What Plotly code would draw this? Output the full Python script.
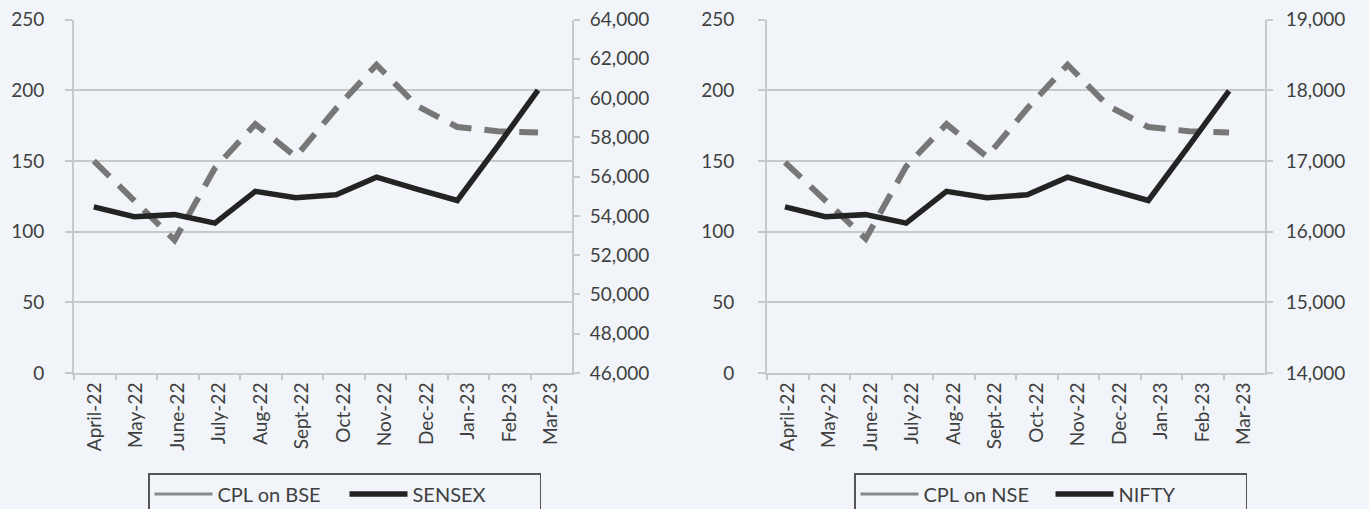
import plotly.graph_objects as go

months = ["April-22", "May-22", "June-22", "July-22", "Aug-22", "Sept-22",
          "Oct-22", "Nov-22", "Dec-22", "Jan-23", "Feb-23", "Mar-23"]

cpl_bse = [150, 122, 94, 145, 176, 153, 187, 218, 189, 174, 171, 170]
sensex = [54460, 53956, 54064, 53632, 55252, 54928, 55072, 55972, 55360, 54784, 57556, 60400]

cpl_nse = [149, 122, 95, 146, 176, 153, 187, 218, 189, 174, 171, 170]
nifty = [16350, 16210, 16240, 16120, 16570, 16480, 16520, 16770, 16600, 16440, 17210, 17990]

left_ticks = [0, 50, 100, 150, 200, 250]

BG = "#F1F5F9"
GRID = "#C6C9CC"
TXT = "#3f3f3f"
DASHC = "#777777"
BLACK = "#232323"
FONT = "Lato"
FS = 19

fig = go.Figure()

def add_panel(fig, cpl, idx, cpl_name, idx_name, xa, xl, yl, yr, legend):
    # legend sample for CPL (solid, as in the reference legend)
    fig.add_trace(go.Scatter(x=months, y=[None] * len(months), mode="lines",
                             name=cpl_name, line=dict(color="#8a8a8a", width=3),
                             xaxis=xl, yaxis=yl, legend=legend, showlegend=True,
                             hoverinfo="skip"))
    fig.add_trace(go.Scatter(x=months, y=cpl, mode="lines", name=cpl_name,
                             line=dict(color=DASHC, width=6, dash="22px,13px"),
                             xaxis=xa, yaxis=yl, showlegend=False))
    fig.add_trace(go.Scatter(x=months, y=idx, mode="lines", name=idx_name,
                             line=dict(color=BLACK, width=5.5),
                             xaxis=xa, yaxis=yr, legend=legend, showlegend=True))

add_panel(fig, cpl_bse, sensex, "CPL on BSE", "SENSEX", "x", "x2", "y", "y2", "legend")
add_panel(fig, cpl_nse, nifty, "CPL on NSE", "NIFTY", "x3", "x4", "y3", "y4", "legend2")

ydom = [1 - 373 / 509, 1 - 19.5 / 509]
dom_l = [74 / 1369, 572 / 1369]
dom_r = [767 / 1369, 1265 / 1369]

tickfont = dict(family=FONT, size=FS, color=TXT)

def hidden_x(dom, rng, anchor):
    return dict(type="category", domain=dom, range=rng, visible=False,
                anchor=anchor, categoryorder="array", categoryarray=months)

def label_x(dom, over, anchor):
    return dict(type="category", domain=dom, range=[-0.5, 11.5], overlaying=over,
                anchor=anchor, categoryorder="array", categoryarray=months,
                tickson="boundaries", ticks="outside", ticklen=5, tickwidth=2,
                tickcolor=GRID, showline=True, linecolor=GRID, linewidth=2,
                showgrid=False, tickangle=-90, tickfont=tickfont, zeroline=False)

def left_y(dom, anchor, standoff):
    return dict(domain=dom, range=[0, 250], tickvals=left_ticks, anchor=anchor,
                showgrid=True, gridcolor=GRID, gridwidth=2, zeroline=False,
                showline=True, linecolor=GRID, linewidth=2, ticks="outside",
                ticklen=7, tickwidth=2, tickcolor=GRID, tickfont=tickfont,
                ticklabelstandoff=standoff)

def right_y(over, anchor, rng, dtick, standoff):
    return dict(overlaying=over, side="right", anchor=anchor, range=rng, dtick=dtick,
                tickformat=",d", showgrid=False, zeroline=False, showline=True,
                linecolor=GRID, linewidth=2, ticks="outside", ticklen=6, tickwidth=2,
                tickcolor=GRID, tickfont=tickfont, ticklabelstandoff=standoff)

legend_common = dict(orientation="h", y=1 - 473 / 509, xanchor="left",
                     yanchor="top", bordercolor="#555555", borderwidth=1.5,
                     bgcolor="rgba(0,0,0,0)",
                     font=dict(family=FONT, size=20, color=TXT),
                     itemwidth=58, entrywidth=122, entrywidthmode="pixels")

fig.update_layout(
    width=1369, height=509,
    margin=dict(l=0, r=0, t=0, b=0, autoexpand=False),
    paper_bgcolor=BG, plot_bgcolor=BG,
    font=dict(family=FONT, size=FS, color=TXT),
    xaxis=hidden_x(dom_l, [-0.49, 11.84], "y"),
    xaxis2=label_x(dom_l, "x", "y"),
    yaxis=left_y(ydom, "x", 17),
    yaxis2=right_y("y", "x", [46000, 64000], 2000, 6),
    xaxis3=hidden_x(dom_r, [-0.446, 11.89], "y3"),
    xaxis4=label_x(dom_r, "x3", "y3"),
    yaxis3=left_y(ydom, "x3", 20),
    yaxis4=right_y("y3", "x3", [14000, 19000], 1000, 9),
    legend=dict(x=148 / 1369, **legend_common),
    legend2=dict(x=854 / 1369, **legend_common),
)

fig.write_html("out.html", config={"displayModeBar": False},
               post_script="document.body.style.margin='0';")
